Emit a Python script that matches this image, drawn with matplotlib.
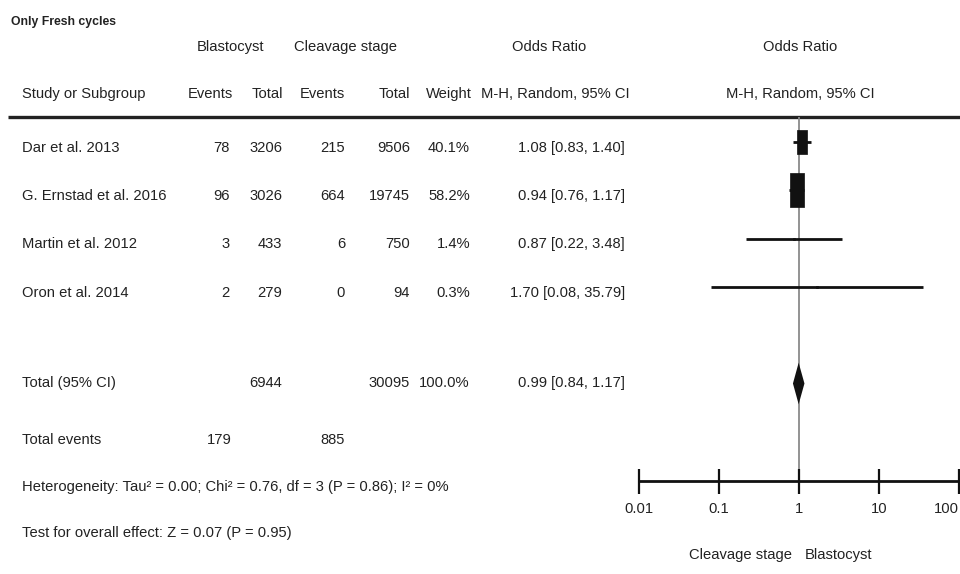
import matplotlib.pyplot as plt
import matplotlib.transforms as mtransforms
from matplotlib.path import Path
from matplotlib.ticker import NullLocator

plt.rcParams["font.family"] = ["Liberation Sans Narrow", "Liberation Sans", "DejaVu Sans"]

studies = ["Dar et al. 2013", "G. Ernstad et al. 2016", "Martin et al. 2012", "Oron et al. 2014"]
blast_events = [78, 96, 3, 2]
blast_total = [3206, 3026, 433, 279]
cleav_events = [215, 664, 6, 0]
cleav_total = [9506, 19745, 750, 94]
weights = [40.1, 58.2, 1.4, 0.3]
odds_ratio = [1.08, 0.94, 0.87, 1.70]
ci_low = [0.83, 0.76, 0.22, 0.08]
ci_high = [1.40, 1.17, 3.48, 35.79]

pooled_or = 0.99
pooled_low = 0.84
pooled_high = 1.17

heterogeneity = "Heterogeneity: Tau² = 0.00; Chi² = 0.76, df = 3 (P = 0.86); I² = 0%"
overall_effect = "Test for overall effect: Z = 0.07 (P = 0.95)"

tick_values = [0.01, 0.1, 1, 10, 100]
tick_labels = ["0.01", "0.1", "1", "10", "100"]

TEXT = "#222222"
FS = 10.6

fig = plt.figure(figsize=(9.6, 5.74), dpi=100)

# text layer in pixel units
ax = fig.add_axes([0, 0, 1, 1])
ax.set_xlim(0, 960)
ax.set_ylim(574, 0)
ax.axis("off")

# forest plot panel: 0.01 .. 100 on a log scale, rows counted downward
fax = fig.add_axes([639 / 960, 1 - 481 / 574, 320 / 960, (481 - 117) / 574])
fax.set_facecolor("none")
fax.set_xscale("log")
fax.set_xlim(0.01, 100)
fax.set_ylim(7.02, -0.52)
for side in ["top", "left", "right"]:
    fax.spines[side].set_visible(False)
fax.spines["bottom"].set_linewidth(2.0)
fax.spines["bottom"].set_color("#111111")
fax.set_yticks([])
fax.set_xticks(tick_values)
fax.set_xticklabels(tick_labels)
fax.xaxis.set_minor_locator(NullLocator())
fax.tick_params(axis="x", direction="inout", length=18, width=1.6, pad=6,
                labelsize=FS, labelcolor=TEXT, color="#111111")
fax.get_xticklabels()[-1].set_horizontalalignment("right")

fax.axvline(1, color="#8a8a8a", lw=1.3, zorder=1)

# weight-scaled boxes (tall rectangles)
box = Path([(-0.21, -0.5), (0.21, -0.5), (0.21, 0.5), (-0.21, 0.5), (-0.21, -0.5)],
           [Path.MOVETO, Path.LINETO, Path.LINETO, Path.LINETO, Path.CLOSEPOLY])
rows = list(range(len(studies)))
for r, est, lo, hi, w in zip(rows, odds_ratio, ci_low, ci_high, weights):
    fax.plot([lo, hi], [r, r], color="#111111", lw=2.0, solid_capstyle="butt", zorder=2)
    fax.plot(est, r, marker=box, markersize=max(0.418 * w, 2.0),
             color="#111111", markeredgewidth=0.5, zorder=3)

total_row = 5
fax.fill([pooled_low, pooled_or, pooled_high, pooled_or],
         [total_row, total_row - 0.43, total_row, total_row + 0.43],
         color="#111111", lw=0, zorder=3)

# table text: x in pixels, y in forest rows
row_tf = mtransforms.blended_transform_factory(ax.transData, fax.transData)
dy = 0.12

ax.text(11, 22, "Only Fresh cycles", fontsize=8.8, fontweight="bold", color=TEXT,
        va="center", ha="left")
ax.text(230, 47, "Blastocyst", fontsize=FS, color=TEXT, ha="center", va="center")
ax.text(346, 47, "Cleavage stage", fontsize=FS, color=TEXT, ha="center", va="center")
ax.text(549, 47, "Odds Ratio", fontsize=FS, color=TEXT, ha="center", va="center")
ax.text(800, 47, "Odds Ratio", fontsize=FS, color=TEXT, ha="center", va="center")

header_y = 94
ax.text(22, header_y, "Study or Subgroup", fontsize=FS, color=TEXT, va="center")
for x, label in [(233, "Events"), (283, "Total"), (345, "Events"), (410, "Total"), (472, "Weight")]:
    ax.text(x, header_y, label, fontsize=FS, color=TEXT, ha="right", va="center")
ax.text(555, header_y, "M-H, Random, 95% CI", fontsize=FS, color=TEXT, ha="center", va="center")
ax.text(800, header_y, "M-H, Random, 95% CI", fontsize=FS, color=TEXT, ha="center", va="center")

ax.plot([8, 960], [117, 117], color="#222222", lw=2.4, solid_capstyle="butt")

for r, name, be, bt, ce, ct, w, est, lo, hi in zip(rows, studies, blast_events, blast_total,
                                                   cleav_events, cleav_total, weights,
                                                   odds_ratio, ci_low, ci_high):
    y = r + dy
    kw = dict(fontsize=FS, color=TEXT, va="center", transform=row_tf)
    ax.text(22, y, name, ha="left", **kw)
    ax.text(230, y, f"{be}", ha="right", **kw)
    ax.text(282, y, f"{bt}", ha="right", **kw)
    ax.text(345, y, f"{ce}", ha="right", **kw)
    ax.text(410, y, f"{ct}", ha="right", **kw)
    ax.text(470, y, f"{w:.1f}%", ha="right", **kw)
    ax.text(625, y, f"{est:.2f} [{lo:.2f}, {hi:.2f}]", ha="right", **kw)

kw = dict(fontsize=FS, color=TEXT, va="center", transform=row_tf)
ax.text(22, total_row, "Total (95% CI)", ha="left", **kw)
ax.text(282, total_row, f"{sum(blast_total)}", ha="right", **kw)
ax.text(410, total_row, f"{sum(cleav_total)}", ha="right", **kw)
ax.text(470, total_row, f"{sum(weights):.1f}%", ha="right", **kw)
ax.text(625, total_row, f"{pooled_or:.2f} [{pooled_low:.2f}, {pooled_high:.2f}]", ha="right", **kw)

ax.text(22, 440, "Total events", fontsize=FS, color=TEXT, va="center")
ax.text(232, 440, f"{sum(blast_events)}", fontsize=FS, color=TEXT, ha="right", va="center")
ax.text(345, 440, f"{sum(cleav_events)}", fontsize=FS, color=TEXT, ha="right", va="center")
ax.text(22, 487, heterogeneity, fontsize=FS, color=TEXT, va="center")
ax.text(22, 533, overall_effect, fontsize=FS, color=TEXT, va="center")

ax.text(792, 555, "Cleavage stage", fontsize=FS, color=TEXT, ha="right", va="center")
ax.text(805, 555, "Blastocyst", fontsize=FS, color=TEXT, ha="left", va="center")

fig.savefig("out.png", dpi=100)
